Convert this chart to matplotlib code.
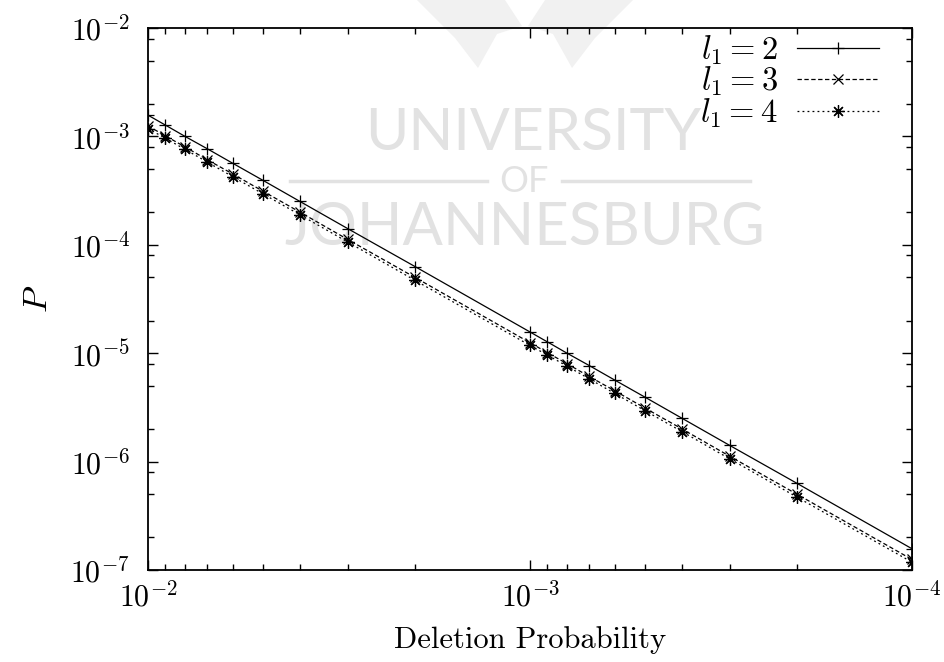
import matplotlib
matplotlib.use("Agg")
import matplotlib.pyplot as plt
from matplotlib.ticker import LogLocator, NullFormatter
from matplotlib.lines import Line2D
from matplotlib.patches import Polygon

plt.rcParams['mathtext.fontset'] = 'cm'
plt.rcParams['font.family'] = 'serif'
plt.rcParams['font.serif'] = ['cmr10', 'DejaVu Serif']
plt.rcParams['axes.unicode_minus'] = False

# deletion probability (x) and P for each l1
deletion_prob = [1e-2, 9e-3, 8e-3, 7e-3, 6e-3, 5e-3, 4e-3, 3e-3, 2e-3,
                 1e-3, 9e-4, 8e-4, 7e-4, 6e-4, 5e-4, 4e-4, 3e-4, 2e-4, 1e-4]
p_l2 = [1.57e-3, 1.27e-3, 1.00e-3, 7.7e-4, 5.65e-4, 3.93e-4, 2.51e-4, 1.41e-4, 6.3e-5,
        1.57e-5, 1.27e-5, 1.00e-5, 7.7e-6, 5.65e-6, 3.93e-6, 2.51e-6, 1.41e-6, 6.3e-7, 1.57e-7]
p_l3 = [1.25e-3, 1.01e-3, 8.0e-4, 6.1e-4, 4.5e-4, 3.12e-4, 2.0e-4, 1.12e-4, 5.0e-5,
        1.25e-5, 1.01e-5, 8.0e-6, 6.1e-6, 4.5e-6, 3.12e-6, 2.0e-6, 1.12e-6, 5.0e-7, 1.25e-7]
p_l4 = [1.18e-3, 9.6e-4, 7.6e-4, 5.8e-4, 4.25e-4, 2.95e-4, 1.89e-4, 1.06e-4, 4.7e-5,
        1.18e-5, 9.6e-6, 7.6e-6, 5.8e-6, 4.25e-6, 2.95e-6, 1.89e-6, 1.06e-6, 4.7e-7, 1.18e-7]
labels = [r'$l_1 = 2$', r'$l_1 = 3$', r'$l_1 = 4$']

W, H = 944, 662
fig = plt.figure(figsize=(W / 100, H / 100), dpi=100)

# faint watermark behind the plot
wm = '#e2e2e2'
fig.text(533 / W, 1 - 133 / H, 'UNIVERSITY', fontsize=42.5, color=wm, family='Lato',
         ha='center', va='center', zorder=0)
fig.text(524 / W, 1 - 182 / H, 'OF', fontsize=26, color=wm, family='Lato',
         ha='center', va='center', zorder=0)
fig.text(525 / W, 1 - 228 / H, 'JOHANNESBURG', fontsize=43, color=wm, family='Lato',
         ha='center', va='center', zorder=0)
fig.add_artist(Line2D([290 / W, 487 / W], [1 - 181 / H] * 2, color=wm, lw=2.5, zorder=0))
fig.add_artist(Line2D([562 / W, 750 / W], [1 - 181 / H] * 2, color=wm, lw=2.5, zorder=0))
wing_l = [(417, 0), (505, 0), (522, 26), (497, 34), (478, 68), (455, 38)]
wing_r = [(633, 0), (545, 0), (528, 26), (553, 34), (572, 68), (595, 38)]
for wing in (wing_l, wing_r):
    fig.add_artist(Polygon([(x / W, 1 - y / H) for x, y in wing], closed=True,
                           facecolor='#f1f1f1', edgecolor='none', zorder=0))

ax = fig.add_axes([148 / W, 1 - 570 / H, (912 - 148) / W, (570 - 28) / H])
ax.patch.set_alpha(0)
ax.set_zorder(2)

ax.plot(deletion_prob, p_l2, color='black', lw=0.9, marker='+', ms=9, mew=0.9,
        label=labels[0])
ax.plot(deletion_prob, p_l3, color='black', lw=0.9, marker='x', ms=7, mew=0.9,
        dashes=(3.5, 2), label=labels[1])
ax.plot(deletion_prob, p_l4, color='black', lw=0.9, marker=(8, 2, 0), ms=9, mew=0.9,
        dashes=(1.5, 2.5), label=labels[2])

ax.set_xscale('log')
ax.set_yscale('log')
ax.set_xlim(1e-2, 1e-4)
ax.set_ylim(1e-7, 1e-2)

ax.xaxis.set_major_locator(LogLocator(base=10, numticks=10))
ax.xaxis.set_minor_locator(LogLocator(base=10, subs=range(2, 10), numticks=20))
ax.yaxis.set_major_locator(LogLocator(base=10, numticks=10))
ax.yaxis.set_minor_locator(LogLocator(base=10, subs=(2, 5, 8), numticks=20))
ax.xaxis.set_minor_formatter(NullFormatter())
ax.yaxis.set_minor_formatter(NullFormatter())

ax.tick_params(which='both', direction='in', top=True, right=True, width=1.0)
ax.tick_params(which='major', length=7, labelsize=21.5, pad=8)
ax.tick_params(axis='y', which='major', pad=13)
ax.tick_params(which='minor', length=4)
for s in ax.spines.values():
    s.set_linewidth(1.3)

ax.set_xlabel('Deletion Probability', fontsize=22, labelpad=10)
ax.set_ylabel(r'$P$', fontsize=25, rotation=90, labelpad=12)

ax.legend(loc='upper right', bbox_to_anchor=(879 / W, 1 - 33 / H),
          bbox_transform=fig.transFigure, frameon=False, markerfirst=False,
          fontsize=23.5, handlelength=2.5, handletextpad=0.6, labelspacing=-0.05,
          borderpad=0, borderaxespad=0)

fig.savefig('out.png', dpi=100)
